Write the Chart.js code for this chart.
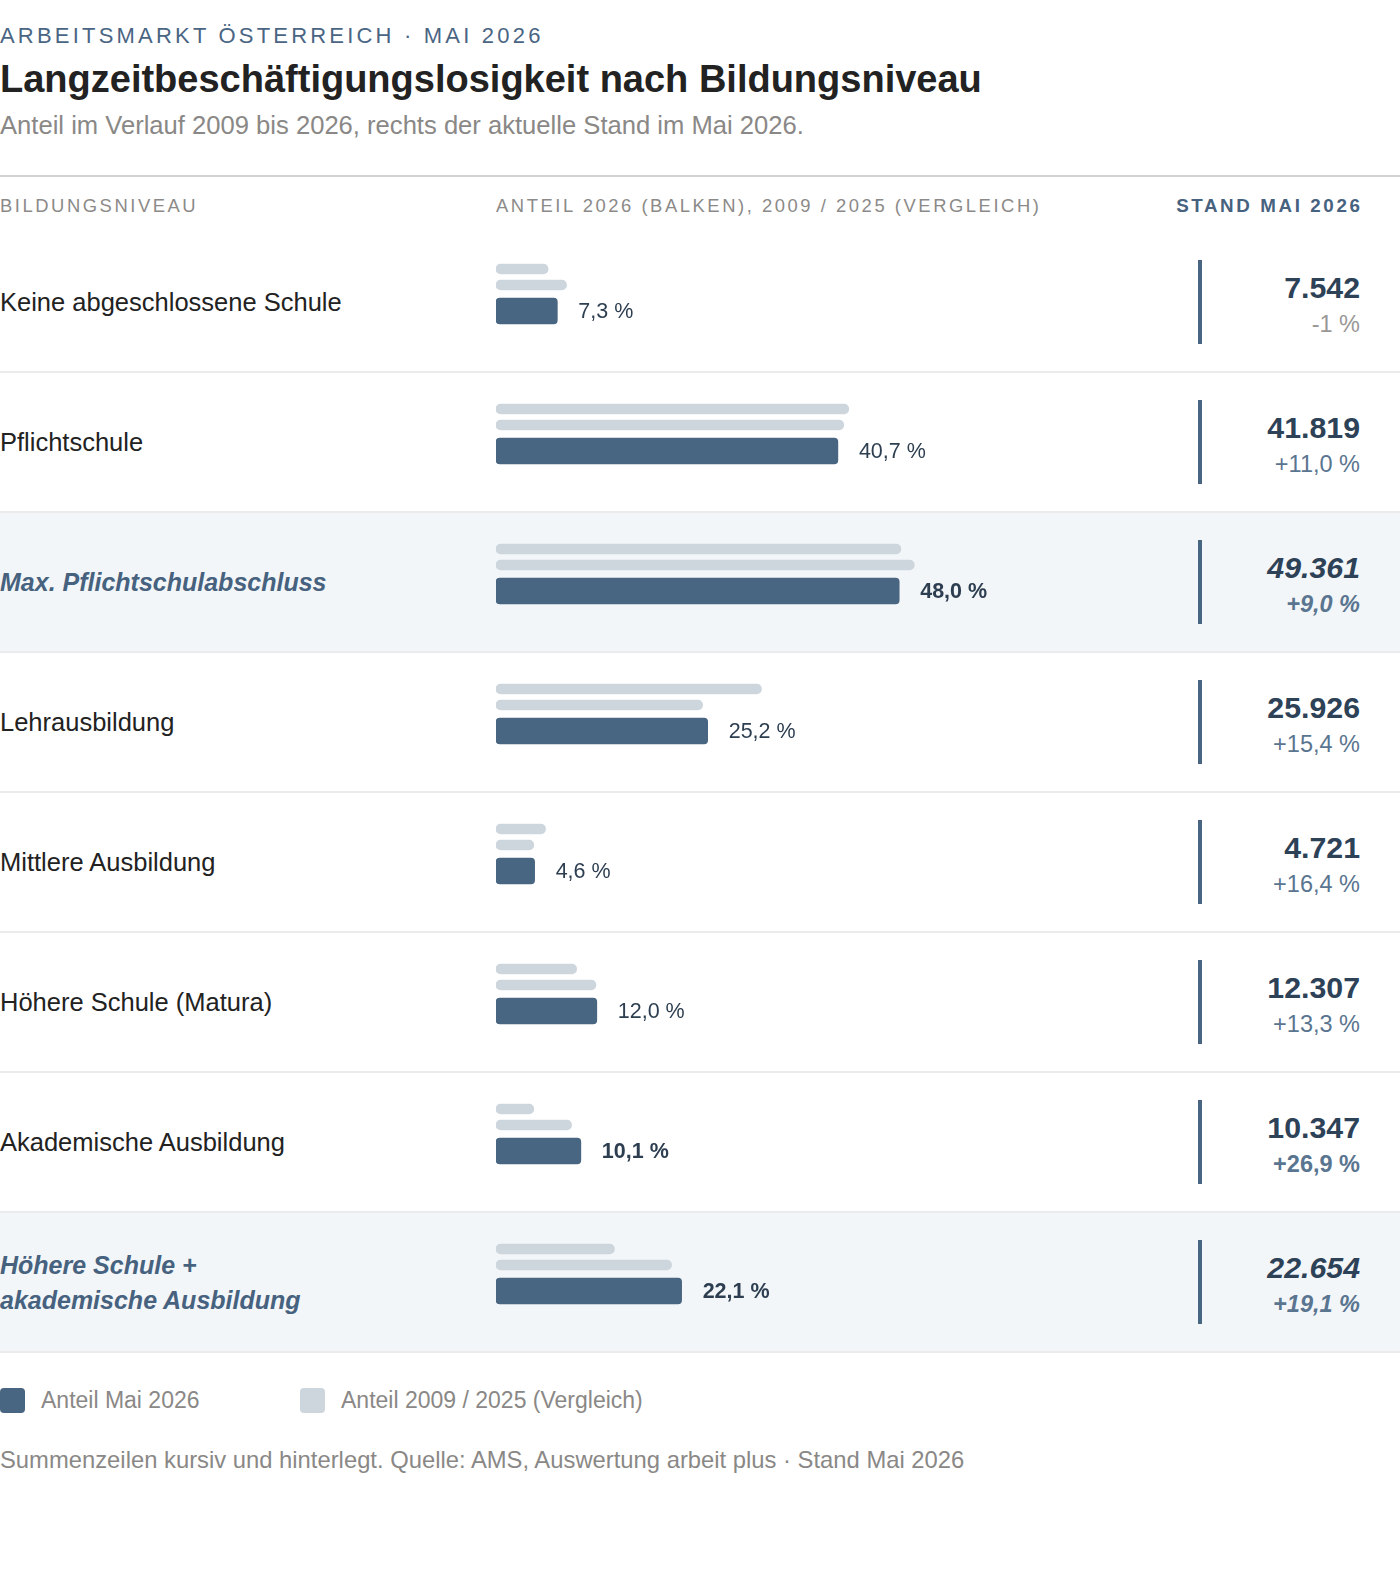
<!DOCTYPE html>
<html lang="de">
<head>
<meta charset="utf-8">
<title>Langzeitbeschäftigungslosigkeit nach Bildungsniveau</title>
<script src="https://cdn.jsdelivr.net/npm/chart.js@4.4.1/dist/chart.umd.min.js"></script>
<style>
  html, body { margin: 0; padding: 0; background: #fff; }
  body { font-family: "Liberation Sans", Arial, Helvetica, sans-serif; }
  #page { position: relative; width: 1400px; height: 1592px; overflow: hidden; }
  .abs { position: absolute; line-height: 1; white-space: nowrap; }
  #kicker { left: 0; top: 25px; font-size: 22px; letter-spacing: 3.2px; color: #4a6583; }
  #title { left: 0; top: 59.5px; font-size: 38px; font-weight: bold; color: #222; }
  #subtitle { left: 0; top: 113.3px; font-size: 25.6px; color: #8a8886; }
  #rule { position: absolute; left: 0; top: 175px; width: 1400px; height: 2px; background: #d2d2d2; }
  .head { top: 197px; font-size: 18.4px; letter-spacing: 2.55px; color: #8c8a88; }
  #headStand { right: 37.5px; font-size: 18.8px; letter-spacing: 2.6px; font-weight: bold; color: #46627f; }
  #rows { position: absolute; left: 0; top: 233px; width: 1400px; }
  .row { position: relative; height: 138px; border-bottom: 2px solid #ebebeb; }
  .row.sum { background: #f3f6f8; }
  .lbl { position: absolute; left: 0; top: 50%; transform: translateY(-50%);
         font-size: 25.5px; line-height: 34.5px; color: #222; white-space: pre; }
  .row.sum .lbl { font-size: 25px; font-weight: bold; font-style: italic; color: #46627f; }
  .vbar { position: absolute; left: 1198px; top: 27px; width: 4px; height: 84px; background: #486581; }
  .num { right: 40px; top: 40.4px; font-size: 30.3px; font-weight: bold; color: #2d4157; }
  .chg { right: 40px; top: 80.1px; font-size: 23.5px; color: #5a7590; }
  .chg.neg { color: #9a9896; }
  .chg.strong { font-weight: bold; }
  .row.sum .num, .row.sum .chg { font-style: italic; }
  #chartBox { position: absolute; left: 496px; top: 215px; width: 630px; height: 1120px; pointer-events: none; }
  .sw { position: absolute; top: 1388px; width: 25px; height: 25px; border-radius: 4px; }
  .legtxt { top: 1388.5px; font-size: 23px; color: #8a8886; }
  #footer { left: 0; top: 1447.8px; font-size: 23.8px; color: #8a8886; }
</style>
</head>
<body>
<div id="page">
  <div id="kicker" class="abs">ARBEITSMARKT ÖSTERREICH · MAI 2026</div>
  <div id="title" class="abs">Langzeitbeschäftigungslosigkeit nach Bildungsniveau</div>
  <div id="subtitle" class="abs">Anteil im Verlauf 2009 bis 2026, rechts der aktuelle Stand im Mai 2026.</div>
  <div id="rule"></div>
  <div class="abs head" style="left:0">BILDUNGSNIVEAU</div>
  <div class="abs head" style="left:496px">ANTEIL 2026 (BALKEN), 2009 / 2025 (VERGLEICH)</div>
  <div id="headStand" class="abs head">STAND MAI 2026</div>

  <div id="rows"></div>

  <div id="chartBox"><canvas id="barChart" width="630" height="1120"></canvas></div>

  <div class="sw" style="left:0; background:#486581"></div>
  <div class="abs legtxt" style="left:41px">Anteil Mai 2026</div>
  <div class="sw" style="left:300px; background:#cdd5dd"></div>
  <div class="abs legtxt" style="left:341px">Anteil 2009 / 2025 (Vergleich)</div>

  <div id="footer" class="abs">Summenzeilen kursiv und hinterlegt. Quelle: AMS, Auswertung arbeit plus · Stand Mai 2026</div>
</div>

<script>
// rows of the table
const levels = [
  "Keine abgeschlossene Schule",
  "Pflichtschule",
  "Max. Pflichtschulabschluss",
  "Lehrausbildung",
  "Mittlere Ausbildung",
  "Höhere Schule (Matura)",
  "Akademische Ausbildung",
  "Höhere Schule +\nakademische Ausbildung"
];

// share in % (thin bars = comparison years, dark bar = May 2026)
const share2009 = [6.2, 42.0, 48.2, 31.6, 5.9, 9.6, 4.5, 14.1];
const share2025 = [8.4, 41.4, 49.8, 24.6, 4.5, 11.9, 9.0, 20.9];
const share2026 = [7.3, 40.7, 48.0, 25.2, 4.6, 12.0, 10.1, 22.1];

// right column: persons May 2026 and change vs. previous year
const count2026 = [7542, 41819, 49361, 25926, 4721, 12307, 10347, 22654];
const changeLabels = ["-1 %", "+11,0 %", "+9,0 %", "+15,4 %", "+16,4 %", "+13,3 %", "+26,9 %", "+19,1 %"];

// sum rows (italic, shaded) and rows with bold figures
const sumRows = [false, false, true, false, false, false, false, true];
const strongRows = [false, false, true, false, false, false, true, true];

const fmtThousands = n => String(n).replace(/\B(?=(\d{3})+(?!\d))/g, ".");
const fmtPct = v => v.toFixed(1).replace(".", ",") + " %";

// ===============================
// HTML rows (labels + Stand column)
// ===============================
const rowsEl = document.getElementById("rows");
levels.forEach((name, i) => {
  const neg = changeLabels[i].startsWith("-");
  rowsEl.innerHTML += `
    <div class="row${sumRows[i] ? " sum" : ""}">
      <div class="lbl">${name}</div>
      <div class="vbar"></div>
      <div class="abs num">${fmtThousands(count2026[i])}</div>
      <div class="abs chg${neg ? " neg" : ""}${strongRows[i] ? " strong" : ""}">${changeLabels[i]}</div>
    </div>`;
});

// ===============================
// Bars (Chart.js)
// ===============================
const valueLabels = {
  id: "valueLabels",
  afterDatasetsDraw(chart) {
    const ctx = chart.ctx;
    const meta = chart.getDatasetMeta(2);
    ctx.save();
    ctx.fillStyle = "#2d3e50";
    ctx.textAlign = "left";
    ctx.textBaseline = "alphabetic";
    meta.data.forEach((bar, i) => {
      ctx.font = (strongRows[i] ? "bold " : "") + '21.5px "Liberation Sans", Arial, sans-serif';
      ctx.fillText(fmtPct(share2026[i]), bar.x + 21, bar.y + 6.5);
    });
    ctx.restore();
  }
};

new Chart(document.getElementById("barChart"), {
  type: "bar",
  data: {
    labels: levels,
    datasets: [
      {
        label: "Anteil 2009",
        data: share2009,
        backgroundColor: "#cdd5dd",
        barThickness: 16,
        maxBarThickness: 10,
        borderRadius: 5,
        borderSkipped: false
      },
      {
        label: "Anteil 2025",
        data: share2025,
        backgroundColor: "#cdd5dd",
        barThickness: 10,
        borderRadius: 5,
        borderSkipped: false
      },
      {
        label: "Anteil Mai 2026",
        data: share2026,
        backgroundColor: "#486581",
        barThickness: 26,
        borderRadius: 4,
        borderSkipped: false
      }
    ]
  },
  options: {
    indexAxis: "y",
    responsive: false,
    animation: false,
    layout: { padding: 0 },
    scales: {
      x: { min: 0, max: 75, display: false },
      y: { display: false }
    },
    plugins: {
      legend: { display: false },
      tooltip: { enabled: false }
    }
  },
  plugins: [valueLabels]
});
</script>
</body>
</html>
